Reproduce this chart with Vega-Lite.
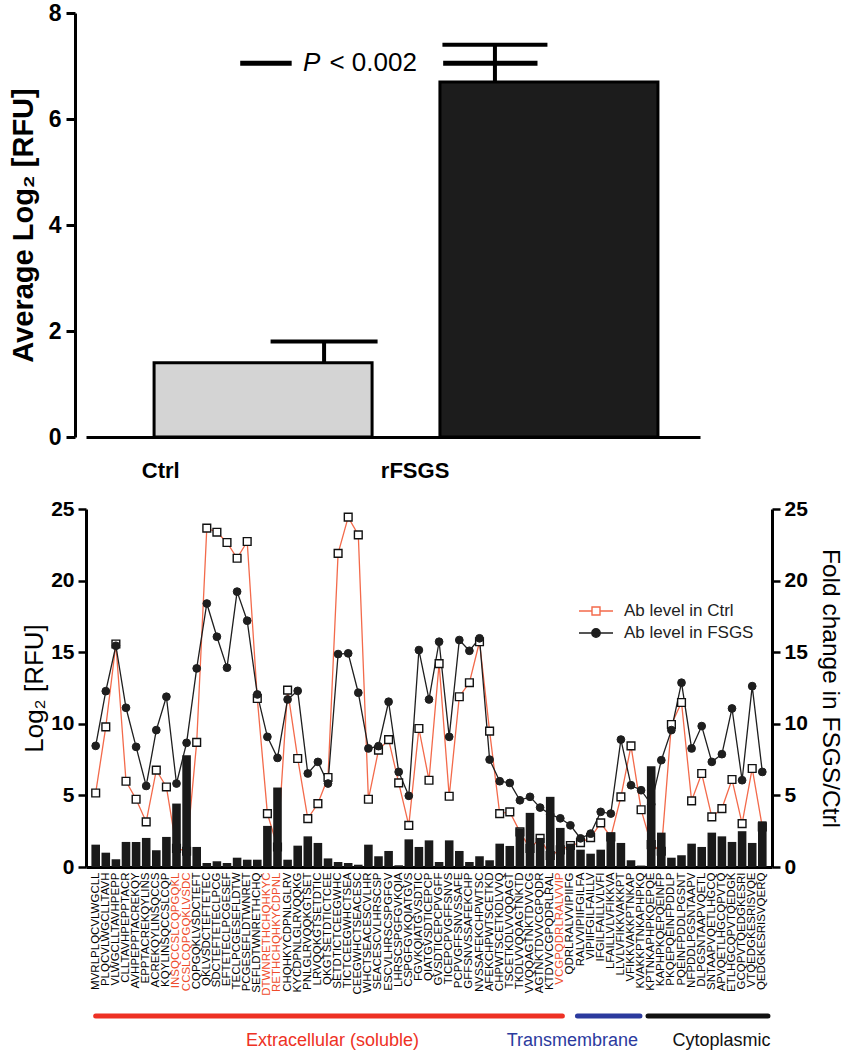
{
  "$schema": "https://vega.github.io/schema/vega-lite/v6.json",
  "padding": {"left": 9, "top": 2, "right": 5, "bottom": 0},
  "spacing": 17,
  "config": {"font": "Liberation Sans", "view": {"stroke": null}},
  "resolve": {
    "scale": {"color": "independent", "fill": "independent", "shape": "independent", "x": "independent", "y": "independent"},
    "legend": {"color": "independent", "fill": "independent", "shape": "independent"}
  },
  "datasets": {
    "summary": [
      {"group": "Ctrl", "pos": 0, "mean": 1.4, "upper": 1.8},
      {"group": "rFSGS", "pos": 1, "mean": 6.7, "upper": 7.4}
    ],
    "peptides": [
      {"peptide": "MVRLPLQCVLWGCLL", "ctrl": 5.17, "fsgs": 8.46, "fold": 1.56},
      {"peptide": "PLQCVLWGCLLTAVH", "ctrl": 9.79, "fsgs": 12.28, "fold": 1.0},
      {"peptide": "VLWGCLLTAVHPEPP", "ctrl": 15.57, "fsgs": 15.45, "fold": 0.54},
      {"peptide": "CLLTAVHPEPPTACR", "ctrl": 5.99, "fsgs": 11.12, "fold": 1.75},
      {"peptide": "AVHPEPPTACREKQY", "ctrl": 4.73, "fsgs": 8.39, "fold": 1.75},
      {"peptide": "EPPTACREKQYLINS", "ctrl": 3.15, "fsgs": 5.66, "fold": 2.03},
      {"peptide": "ACREKQYLINSQCCS", "ctrl": 6.76, "fsgs": 9.56, "fold": 1.17},
      {"peptide": "KQYLINSQCCSLCQP", "ctrl": 5.59, "fsgs": 11.89, "fold": 2.1},
      {"peptide": "INSQCCSLCQPGQKL", "ctrl": 1.3, "fsgs": 5.83, "fold": 4.43},
      {"peptide": "CCSLCQPGQKLVSDC", "ctrl": 1.1, "fsgs": 8.67, "fold": 7.81},
      {"peptide": "CQPGQKLVSDCTEFT", "ctrl": 8.7, "fsgs": 13.87, "fold": 1.4},
      {"peptide": "QKLVSDCTEFTETEC", "ctrl": 23.66, "fsgs": 18.4, "fold": 0.28},
      {"peptide": "SDCTEFTETECLPCG", "ctrl": 23.38, "fsgs": 16.08, "fold": 0.4},
      {"peptide": "EFTETECLPCGESEF", "ctrl": 22.66, "fsgs": 13.92, "fold": 0.28},
      {"peptide": "TECLPCGESEFLDTW", "ctrl": 21.56, "fsgs": 19.23, "fold": 0.65},
      {"peptide": "PCGESEFLDTWNRET", "ctrl": 22.73, "fsgs": 17.2, "fold": 0.51},
      {"peptide": "SEFLDTWNRETHCHQ", "ctrl": 11.77, "fsgs": 12.05, "fold": 0.51},
      {"peptide": "DTWNRETHCHQHKYC", "ctrl": 3.73, "fsgs": 9.09, "fold": 2.87},
      {"peptide": "RETHCHQHKYCDPNL", "ctrl": 1.4, "fsgs": 7.62, "fold": 5.55},
      {"peptide": "CHQHKYCDPNLGLRV", "ctrl": 12.35, "fsgs": 11.7, "fold": 0.51},
      {"peptide": "KYCDPNLGLRVQQKG", "ctrl": 7.58, "fsgs": 12.3, "fold": 1.49},
      {"peptide": "PNLGLRVQQKGTSET", "ctrl": 3.38, "fsgs": 6.53, "fold": 2.14},
      {"peptide": "LRVQQKGTSETDTIC", "ctrl": 4.43, "fsgs": 7.34, "fold": 1.68},
      {"peptide": "QKGTSETDTICTCEE", "ctrl": 6.25, "fsgs": 5.83, "fold": 0.6},
      {"peptide": "SETDTICTCEEGWHC", "ctrl": 21.9, "fsgs": 14.87, "fold": 0.35},
      {"peptide": "TICTCEEGWHCTSEA", "ctrl": 24.43, "fsgs": 14.92, "fold": 0.28},
      {"peptide": "CEEGWHCTSEACESC", "ctrl": 23.19, "fsgs": 12.17, "fold": 0.16},
      {"peptide": "WHCTSEACESCVLHR", "ctrl": 4.73, "fsgs": 8.28, "fold": 1.56},
      {"peptide": "SEACESCVLHRSCSP", "ctrl": 8.16, "fsgs": 8.44, "fold": 0.75},
      {"peptide": "ESCVLHRSCSPGFGV", "ctrl": 8.9, "fsgs": 11.54, "fold": 1.12},
      {"peptide": "LHRSCSPGFGVKQIA", "ctrl": 5.87, "fsgs": 6.64, "fold": 0.12},
      {"peptide": "CSPGFGVKQIATGVS", "ctrl": 2.91, "fsgs": 4.97, "fold": 1.93},
      {"peptide": "FGVKQIATGVSDTIC", "ctrl": 9.67, "fsgs": 15.15, "fold": 1.4},
      {"peptide": "QIATGVSDTICEPCP", "ctrl": 6.06, "fsgs": 11.7, "fold": 1.86},
      {"peptide": "GVSDTICEPCPVGFF", "ctrl": 14.2, "fsgs": 15.73, "fold": 0.35},
      {"peptide": "TICEPCPVGFFSNVS", "ctrl": 4.94, "fsgs": 9.09, "fold": 1.86},
      {"peptide": "PCPVGFFSNVSSAFE", "ctrl": 11.89, "fsgs": 15.85, "fold": 1.12},
      {"peptide": "GFFSNVSSAFEKCHP", "ctrl": 12.87, "fsgs": 15.1, "fold": 0.35},
      {"peptide": "NVSSAFEKCHPWTSC", "ctrl": 15.73, "fsgs": 15.97, "fold": 0.75},
      {"peptide": "AFEKCHPWTSCETKD", "ctrl": 9.49, "fsgs": 7.5, "fold": 0.47},
      {"peptide": "CHPWTSCETKDLVVQ", "ctrl": 3.73, "fsgs": 5.99, "fold": 1.63},
      {"peptide": "TSCETKDLVVQQAGT", "ctrl": 3.85, "fsgs": 5.87, "fold": 1.47},
      {"peptide": "TKDLVVQQAGTNKTD", "ctrl": 2.45, "fsgs": 4.66, "fold": 2.68},
      {"peptide": "VVQQAGTNKTDVVCG", "ctrl": 1.3, "fsgs": 4.9, "fold": 3.78},
      {"peptide": "AGTNKTDVVCGPQDR", "ctrl": 2.0, "fsgs": 4.15, "fold": 2.03},
      {"peptide": "KTDVVCGPQDRLRAL", "ctrl": 0.8, "fsgs": 3.68, "fold": 4.9},
      {"peptide": "VCGPQDRLRALVVIP", "ctrl": 1.2, "fsgs": 3.4, "fold": 2.73},
      {"peptide": "QDRLRALVVIPIIFG", "ctrl": 1.5, "fsgs": 2.91, "fold": 1.63},
      {"peptide": "RALVVIPIIFGILFA", "ctrl": 1.7, "fsgs": 2.0, "fold": 1.21},
      {"peptide": "VIPIIFGILFAILLV", "ctrl": 2.05, "fsgs": 2.33, "fold": 0.93},
      {"peptide": "IFGILFAILLVLVFI", "ctrl": 3.08, "fsgs": 3.85, "fold": 1.21},
      {"peptide": "LFAILLVLVFIKKVA", "ctrl": 2.1, "fsgs": 3.73, "fold": 2.4},
      {"peptide": "LLVLVFIKKVAKKPT", "ctrl": 4.9, "fsgs": 8.9, "fold": 1.68},
      {"peptide": "VFIKKVAKKPTNKAP", "ctrl": 8.46, "fsgs": 5.71, "fold": 0.47},
      {"peptide": "KVAKKPTNKAPHPKQ", "ctrl": 4.0, "fsgs": 5.36, "fold": 0.1},
      {"peptide": "KPTNKAPHPKQEPQE", "ctrl": 1.56, "fsgs": 4.38, "fold": 7.04},
      {"peptide": "KAPHPKQEPQEINFP", "ctrl": 1.1, "fsgs": 7.46, "fold": 2.4},
      {"peptide": "PKQEPQEINFPDDLP", "ctrl": 9.95, "fsgs": 9.56, "fold": 0.65},
      {"peptide": "PQEINFPDDLPGSNT", "ctrl": 11.49, "fsgs": 12.87, "fold": 0.82},
      {"peptide": "NFPDDLPGSNTAAPV", "ctrl": 4.62, "fsgs": 8.28, "fold": 1.63},
      {"peptide": "DLPGSNTAAPVQETL", "ctrl": 6.53, "fsgs": 9.84, "fold": 1.4},
      {"peptide": "SNTAAPVQETLHGCQ", "ctrl": 3.5, "fsgs": 7.34, "fold": 2.4},
      {"peptide": "APVQETLHGCQPVTQ", "ctrl": 4.08, "fsgs": 7.88, "fold": 2.14},
      {"peptide": "ETLHGCQPVTQEDGK", "ctrl": 6.11, "fsgs": 11.07, "fold": 1.75},
      {"peptide": "GCQPVTQEDGKESRI", "ctrl": 3.03, "fsgs": 6.06, "fold": 2.5},
      {"peptide": "VTQEDGKESRISVQE", "ctrl": 6.88, "fsgs": 12.63, "fold": 1.68},
      {"peptide": "QEDGKESRISVQERQ", "ctrl": 2.8, "fsgs": 6.64, "fold": 3.19}
    ],
    "regions": [
      {"region": "Extracellular (soluble)", "start": 0, "end": 46.3, "labelAt": 23.5},
      {"region": "Transmembrane", "start": 47.8, "end": 54.0, "labelAt": 47.3},
      {"region": "Cytoplasmic", "start": 54.8, "end": 66.7, "labelAt": 62.1}
    ]
  },
  "vconcat": [
    {
      "width": 614,
      "height": 424,
      "layer": [
        {
          "data": {"name": "summary"},
          "mark": {"type": "bar", "size": 218, "stroke": "black", "strokeWidth": 3},
          "encoding": {
            "x": {
              "field": "pos", "type": "quantitative",
              "scale": {"domain": [-0.602, 1.511], "nice": false, "zero": false},
              "axis": {
                "values": [-0.36, 0.53], "labelExpr": "datum.value < 0 ? 'Ctrl' : 'rFSGS'",
                "ticks": false, "grid": false, "title": null,
                "domainColor": "black", "domainWidth": 3,
                "labelFontSize": 22, "labelFontWeight": "bold", "labelColor": "black", "labelPadding": 23
              }
            },
            "y": {
              "field": "mean", "type": "quantitative",
              "scale": {"domain": [0, 8], "nice": false},
              "axis": {
                "values": [0, 2, 4, 6, 8], "grid": false, "offset": 11,
                "title": "Average Log₂ [RFU]", "titleFontSize": 29, "titleFontWeight": "bold", "titleColor": "black", "titlePadding": 10,
                "labelFontSize": 23, "labelFontWeight": "bold", "labelColor": "black", "labelPadding": 5,
                "tickSize": 9, "tickWidth": 3, "tickColor": "black", "domainColor": "black", "domainWidth": 3
              }
            },
            "fill": {"field": "group", "type": "nominal", "scale": {"domain": ["Ctrl", "rFSGS"], "range": ["#d4d4d4", "#1c1c1c"]}, "legend": null}
          }
        },
        {
          "data": {"name": "summary"},
          "transform": [{"filter": "datum.group == 'Ctrl'"}],
          "layer": [
            {
              "mark": {"type": "rule", "strokeWidth": 4, "color": "black", "opacity": 1, "xOffset": 61},
              "encoding": {
                "x": {"field": "pos", "type": "quantitative"},
                "y": {"field": "mean", "type": "quantitative"},
                "y2": {"field": "upper"}
              }
            },
            {
              "mark": {"type": "tick", "orient": "horizontal", "size": 107, "thickness": 4, "color": "black", "opacity": 1, "xOffset": 61},
              "encoding": {
                "x": {"field": "pos", "type": "quantitative"},
                "y": {"field": "upper", "type": "quantitative"}
              }
            }
          ]
        },
        {
          "data": {"name": "summary"},
          "transform": [{"filter": "datum.group == 'rFSGS'"}],
          "layer": [
            {
              "mark": {"type": "rule", "strokeWidth": 4, "color": "black", "opacity": 1, "xOffset": -54},
              "encoding": {
                "x": {"field": "pos", "type": "quantitative"},
                "y": {"field": "mean", "type": "quantitative"},
                "y2": {"field": "upper"}
              }
            },
            {
              "mark": {"type": "tick", "orient": "horizontal", "size": 105, "thickness": 4, "color": "black", "opacity": 1, "xOffset": -54},
              "encoding": {
                "x": {"field": "pos", "type": "quantitative"},
                "y": {"field": "upper", "type": "quantitative"}
              }
            }
          ]
        },
        {
          "data": {"values": [{}]},
          "mark": {"type": "rule", "strokeWidth": 5, "color": "black"},
          "encoding": {
            "x": {"datum": -0.08, "type": "quantitative"},
            "x2": {"datum": 0.1},
            "y": {"datum": 7.05, "type": "quantitative"}
          }
        },
        {
          "data": {"values": [{}]},
          "mark": {"type": "rule", "strokeWidth": 5, "color": "black"},
          "encoding": {
            "x": {"datum": 0.63, "type": "quantitative"},
            "x2": {"datum": 0.96},
            "y": {"datum": 7.05, "type": "quantitative"}
          }
        },
        {
          "data": {"values": [{}]},
          "mark": {"type": "text", "text": "P", "fontStyle": "italic", "fontSize": 26, "align": "center", "baseline": "middle", "color": "black"},
          "encoding": {
            "x": {"datum": 0.17, "type": "quantitative"},
            "y": {"datum": 7.05, "type": "quantitative"}
          }
        },
        {
          "data": {"values": [{}]},
          "mark": {"type": "text", "text": "< 0.002", "fontSize": 26, "align": "left", "baseline": "middle", "color": "black"},
          "encoding": {
            "x": {"datum": 0.232, "type": "quantitative"},
            "y": {"datum": 7.05, "type": "quantitative"}
          }
        }
      ]
    },
    {
      "width": 686,
      "height": 358,
      "data": {"name": "peptides"},
      "layer": [
        {
          "transform": [{"fold": ["ctrl", "fsgs"], "as": ["series", "log2"]}],
          "layer": [
            {
              "mark": {"type": "line", "strokeWidth": 1.3},
              "encoding": {
                "x": {
                  "field": "peptide", "type": "nominal", "sort": null,
                  "scale": {"paddingInner": 0.15, "paddingOuter": 0.535},
                  "axis": {
                    "title": null, "labelAngle": -90, "labelFontSize": 11.5, "labelPadding": 5,
                    "labelColor": {"condition": {"test": "indexof(['INSQCCSLCQPGQKL','CCSLCQPGQKLVSDC','DTWNRETHCHQHKYC','RETHCHQHKYCDPNL','VCGPQDRLRALVVIP'], datum.value) >= 0", "value": "#EE4B2B"}, "value": "black"},
                    "ticks": false, "domainColor": "black", "domainWidth": 3, "labelOverlap": false
                  }
                },
                "y": {
                  "field": "log2", "type": "quantitative",
                  "scale": {"domain": [0, 25], "nice": false},
                  "axis": {
                    "orient": "left", "values": [0, 5, 10, 15, 20, 25], "grid": false,
                    "title": "Log₂ [RFU]", "titleFontSize": 26, "titleFontWeight": "normal", "titleColor": "black", "titlePadding": 3,
                    "labelFontSize": 21, "labelFontWeight": "bold", "labelColor": "black", "labelPadding": 4,
                    "tickSize": 8, "tickWidth": 2.5, "tickColor": "black", "domainColor": "black", "domainWidth": 3
                  }
                },
                "color": {
                  "field": "series", "type": "nominal",
                  "scale": {"domain": ["ctrl", "fsgs"], "range": ["#F36A4B", "#1e1e1e"]},
                  "legend": {
                    "orient": "none", "legendX": 499, "legendY": 91, "title": null, "padding": 0,
                    "labelFontSize": 17, "labelColor": "#222", "labelOffset": 17, "rowPadding": 3,
                    "symbolSize": 400, "symbolStrokeWidth": 1.4,
                    "labelExpr": "datum.value == 'ctrl' ? 'Ab level in Ctrl' : 'Ab level in FSGS'",
                    "encode": {
                      "symbols": {
                        "update": {
                          "shape": {"signal": "datum.value == 'ctrl' ? 'M-1.7,0L-0.4,0M0.4,0L1.7,0M-0.4,-0.4L0.4,-0.4L0.4,0.4L-0.4,0.4Z' : 'M-1.7,0L1.7,0M0,-0.42A0.42,0.42,0,1,1,0,0.42A0.42,0.42,0,1,1,0,-0.42Z'"},
                          "fill": {"signal": "datum.value == 'ctrl' ? 'white' : '#1e1e1e'"},
                          "fillOpacity": {"value": 1}
                        }
                      }
                    }
                  }
                }
              }
            },
            {
              "transform": [{"filter": "datum.series == 'ctrl'"}],
              "mark": {"type": "point", "shape": "square", "size": 60, "strokeWidth": 1.4, "opacity": 1, "stroke": "#111", "fill": "white", "filled": false},
              "encoding": {
                "x": {"field": "peptide", "type": "nominal", "sort": null},
                "y": {"field": "log2", "type": "quantitative"}
              }
            },
            {
              "transform": [{"filter": "datum.series == 'fsgs'"}],
              "mark": {"type": "point", "shape": "circle", "size": 60, "strokeWidth": 1, "opacity": 1, "stroke": "#1e1e1e", "fill": "#1e1e1e", "filled": true},
              "encoding": {
                "x": {"field": "peptide", "type": "nominal", "sort": null},
                "y": {"field": "log2", "type": "quantitative"}
              }
            }
          ]
        },
        {
          "mark": {"type": "bar", "color": "#1a1a1a"},
          "encoding": {
            "x": {"field": "peptide", "type": "nominal", "sort": null},
            "y": {
              "field": "fold", "type": "quantitative",
              "scale": {"domain": [0, 25], "nice": false},
              "axis": {
                "orient": "right", "values": [0, 5, 10, 15, 20, 25], "grid": false,
                "title": "Fold change in FSGS/Ctrl", "titleFontSize": 24.5, "titleFontWeight": "normal", "titleColor": "black", "titlePadding": 10,
                "labelFontSize": 21, "labelFontWeight": "bold", "labelColor": "black", "labelPadding": 4,
                "tickSize": 8, "tickWidth": 2.5, "tickColor": "black", "domainColor": "black", "domainWidth": 3
              }
            }
          }
        }
      ],
      "resolve": {"scale": {"y": "independent"}}
    },
    {
      "width": 686,
      "height": 25,
      "data": {"name": "regions"},
      "layer": [
        {
          "mark": {"type": "rule", "strokeWidth": 5, "strokeCap": "round"},
          "encoding": {
            "x": {"field": "start", "type": "quantitative", "scale": {"domain": [-0.96, 67.1], "nice": false, "zero": false}, "axis": null},
            "x2": {"field": "end"},
            "y": {"datum": "bar", "type": "nominal", "scale": {"type": "point", "domain": ["bar", "text"], "padding": 0}, "axis": null},
            "color": {"field": "region", "type": "nominal", "scale": {"domain": ["Extracellular (soluble)", "Transmembrane", "Cytoplasmic"], "range": ["#EE3124", "#2B3A9E", "#111111"]}, "legend": null}
          }
        },
        {
          "mark": {"type": "text", "fontSize": 18, "baseline": "middle", "align": "center"},
          "encoding": {
            "x": {"field": "labelAt", "type": "quantitative"},
            "y": {"datum": "text", "type": "nominal"},
            "text": {"field": "region"},
            "color": {"field": "region", "type": "nominal", "legend": null}
          }
        }
      ]
    }
  ]
}
